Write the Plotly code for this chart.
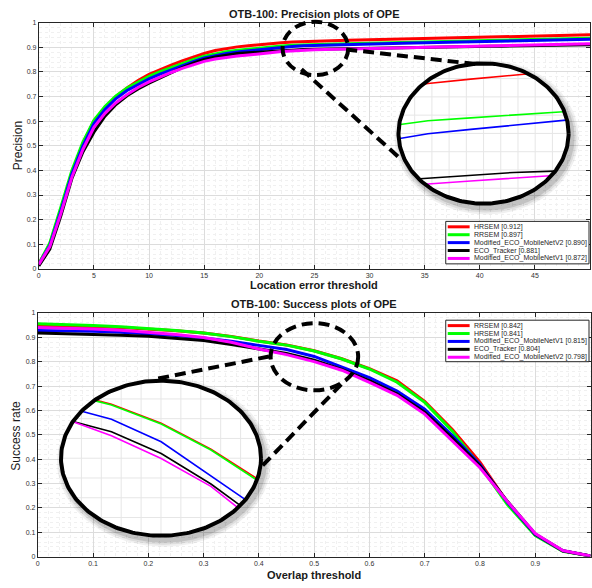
import numpy as np
import plotly.graph_objects as go

W, H = 592, 588

# ---------------- data ----------------
prec_thresholds = list(range(0, 51))
prec_names = ["HRSEM [0.912]", "RRSEM [0.897]", "Modified_ECO_MobileNetV2 [0.890]",
              "ECO_Tracker [0.881]", "Modified_ECO_MobileNetV1 [0.872]"]
prec_colors = ["#ff0000", "#00ff00", "#0000ff", "#000000", "#ff00ff"]
prec_hrsem = [0.020, 0.100, 0.240, 0.390, 0.510, 0.600, 0.655, 0.700, 0.735, 0.765,
              0.790, 0.810, 0.828, 0.845, 0.861, 0.875, 0.887, 0.896, 0.902, 0.907,
              0.912, 0.916, 0.919, 0.922, 0.924, 0.9255, 0.927, 0.928, 0.929, 0.930,
              0.931, 0.932, 0.933, 0.934, 0.935, 0.936, 0.937, 0.938, 0.939, 0.940,
              0.941, 0.942, 0.943, 0.944, 0.945, 0.946, 0.947, 0.948, 0.949, 0.950, 0.951]
prec_rrsem = [0.020, 0.105, 0.250, 0.400, 0.515, 0.604, 0.660, 0.703, 0.735, 0.760,
              0.782, 0.801, 0.818, 0.834, 0.850, 0.864, 0.874, 0.882, 0.888, 0.893,
              0.897, 0.902, 0.906, 0.909, 0.911, 0.912, 0.913, 0.914, 0.915, 0.916,
              0.917, 0.918, 0.919, 0.920, 0.921, 0.922, 0.923, 0.924, 0.925, 0.926,
              0.927, 0.928, 0.929, 0.930, 0.931, 0.932, 0.933, 0.934, 0.935, 0.936, 0.937]
prec_v2 = [0.018, 0.095, 0.235, 0.385, 0.500, 0.590, 0.648, 0.692, 0.725, 0.750,
           0.772, 0.791, 0.809, 0.826, 0.842, 0.857, 0.867, 0.875, 0.881, 0.886,
           0.890, 0.896, 0.900, 0.904, 0.9065, 0.908, 0.9095, 0.911, 0.912, 0.913,
           0.914, 0.915, 0.916, 0.917, 0.918, 0.919, 0.920, 0.921, 0.922, 0.923,
           0.924, 0.925, 0.926, 0.927, 0.928, 0.929, 0.930, 0.931, 0.932, 0.932, 0.933]
prec_eco = [0.012, 0.080, 0.215, 0.367, 0.475, 0.555, 0.620, 0.668, 0.703, 0.731,
            0.755, 0.777, 0.798, 0.818, 0.836, 0.851, 0.861, 0.869, 0.875, 0.878,
            0.881, 0.885, 0.888, 0.890, 0.891, 0.892, 0.893, 0.8935, 0.894, 0.895,
            0.896, 0.897, 0.898, 0.898, 0.899, 0.900, 0.901, 0.902, 0.902, 0.903,
            0.904, 0.905, 0.905, 0.906, 0.907, 0.908, 0.908, 0.909, 0.910, 0.910, 0.911]
prec_v1 = [0.018, 0.090, 0.225, 0.372, 0.485, 0.575, 0.632, 0.675, 0.708, 0.737,
           0.760, 0.780, 0.798, 0.815, 0.830, 0.843, 0.853, 0.860, 0.865, 0.869,
           0.872, 0.878, 0.883, 0.886, 0.889, 0.890, 0.891, 0.892, 0.893, 0.894,
           0.895, 0.896, 0.897, 0.898, 0.899, 0.900, 0.901, 0.902, 0.903, 0.904,
           0.905, 0.906, 0.907, 0.908, 0.909, 0.910, 0.911, 0.912, 0.913, 0.914, 0.915]
prec_series = [prec_hrsem, prec_rrsem, prec_v2, prec_eco, prec_v1]

succ_thresholds = [0.0, 0.05, 0.1, 0.15, 0.2, 0.25, 0.3, 0.35, 0.4, 0.45, 0.5,
                   0.55, 0.6, 0.65, 0.7, 0.75, 0.8, 0.85, 0.9, 0.95, 1.0]
succ_names = ["RRSEM [0.842]", "HRSEM [0.841]", "Modified_ECO_MobileNetV1 [0.815]",
              "ECO_Tracker [0.804]", "Modified_ECO_MobileNetV2 [0.798]"]
succ_colors = ["#ff0000", "#00ff00", "#0000ff", "#000000", "#ff00ff"]
succ_rrsem = [0.948, 0.947, 0.944, 0.940, 0.934, 0.927, 0.918, 0.904, 0.885, 0.869, 0.845,
              0.812, 0.772, 0.722, 0.637, 0.522, 0.388, 0.222, 0.091, 0.023, 0.003]
succ_hrsem = [0.956, 0.954, 0.949, 0.943, 0.936, 0.928, 0.918, 0.903, 0.884, 0.868, 0.844,
              0.811, 0.770, 0.716, 0.633, 0.515, 0.372, 0.213, 0.087, 0.022, 0.003]
succ_v1 = [0.928, 0.927, 0.925, 0.921, 0.916, 0.908, 0.897, 0.884, 0.867, 0.850, 0.8215,
           0.778, 0.735, 0.680, 0.605, 0.497, 0.378, 0.222, 0.091, 0.024, 0.003]
succ_eco = [0.918, 0.916, 0.913, 0.909, 0.904, 0.897, 0.887, 0.871, 0.851, 0.834, 0.8065,
            0.768, 0.722, 0.668, 0.593, 0.487, 0.373, 0.226, 0.093, 0.024, 0.003]
succ_v2 = [0.940, 0.938, 0.934, 0.929, 0.922, 0.912, 0.899, 0.880, 0.852, 0.829, 0.8003,
           0.765, 0.715, 0.662, 0.585, 0.477, 0.365, 0.225, 0.095, 0.025, 0.003]
succ_series = [succ_rrsem, succ_hrsem, succ_v1, succ_eco, succ_v2]

FONT = "Liberation Sans, Arial, sans-serif"

# ---------------- helpers ----------------
def PX(x):
    return x / W


def PY(y):
    return 1 - y / H


def ellipse(cx, cy, rx, ry, n=241):
    t = np.linspace(0, 2 * np.pi, n)
    return list(cx + rx * np.cos(t)), list(cy + ry * np.sin(t))


def clip_to_ellipse(xs, ys, cx, cy, rx, ry):
    ox, oy = [], []
    for i in range(len(xs) - 1):
        x0, y0, x1, y1 = xs[i], ys[i], xs[i + 1], ys[i + 1]
        dx, dy = x1 - x0, y1 - y0
        a = (dx / rx) ** 2 + (dy / ry) ** 2
        b = 2 * ((x0 - cx) * dx / rx ** 2 + (y0 - cy) * dy / ry ** 2)
        c = ((x0 - cx) / rx) ** 2 + ((y0 - cy) / ry) ** 2 - 1
        disc = b * b - 4 * a * c
        if a == 0 or disc <= 0:
            continue
        s = disc ** 0.5
        ta = max((-b - s) / (2 * a), 0.0)
        tb = min((-b + s) / (2 * a), 1.0)
        if ta >= tb:
            continue
        p0 = (x0 + ta * dx, y0 + ta * dy)
        p1 = (x0 + tb * dx, y0 + tb * dy)
        if ox and ox[-1] is not None and abs(ox[-1] - p0[0]) < 1e-9 and abs(oy[-1] - p0[1]) < 1e-9:
            ox.append(p1[0]); oy.append(p1[1])
        else:
            if ox:
                ox.append(None); oy.append(None)
            ox += [p0[0], p1[0]]; oy += [p0[1], p1[1]]
    return ox, oy


fig = go.Figure()

# ---------------- main plots ----------------
for name, col, ys in zip(prec_names, prec_colors, prec_series):
    fig.add_trace(go.Scatter(x=prec_thresholds, y=ys, mode="lines", name=name,
                             line=dict(color=col, width=3), xaxis="x", yaxis="y",
                             showlegend=False, hoverinfo="skip"))
for name, col, ys in zip(succ_names, succ_colors, succ_series):
    fig.add_trace(go.Scatter(x=succ_thresholds, y=ys, mode="lines", name=name,
                             line=dict(color=col, width=3), xaxis="x2", yaxis="y2",
                             showlegend=False, hoverinfo="skip"))

# ---------------- insets ----------------
insets = [
    dict(cpx=(484, 131), r=(85.5, 71), cd=(25.3, 0.90659), s=(43.0, 2905.0), g=(17.3, 18.5),
         xs=prec_thresholds, series=prec_series, colors=prec_colors, ax="3"),
    dict(cpx=(159.8, 459.7), r=(100.5, 78.5), cd=(0.4998, 0.80063), s=(1000.0, 800.0), g=(20.0, 20.0),
         xs=succ_thresholds, series=succ_series, colors=succ_colors, ax="4"),
]
PAD = 16
for ins in insets:
    cxp, cyp = ins["cpx"]
    rxp, ryp = ins["r"]
    cxd, cyd = ins["cd"]
    sx, sy = ins["s"]
    a = ins["ax"]
    xa, ya = "x" + a, "y" + a
    fig.update_layout(**{
        "xaxis" + a: dict(domain=[PX(cxp - rxp - PAD), PX(cxp + rxp + PAD)],
                          range=[cxd - (rxp + PAD) / sx, cxd + (rxp + PAD) / sx],
                          visible=False, anchor=ya, fixedrange=True),
        "yaxis" + a: dict(domain=[PY(cyp + ryp + PAD), PY(cyp - ryp - PAD)],
                          range=[cyd - (ryp + PAD) / sy, cyd + (ryp + PAD) / sy],
                          visible=False, anchor=xa, fixedrange=True),
    })
    rxd, ryd = rxp / sx, ryp / sy
    # soft shadow
    for k, alpha in [(7, 0.06), (5, 0.08), (3, 0.12)]:
        ex, ey = ellipse(cxd + 3 / sx, cyd - 4 / sy, (rxp + k) / sx, (ryp + k) / sy)
        fig.add_trace(go.Scatter(x=ex, y=ey, mode="lines", fill="toself",
                                 fillcolor="rgba(0,0,0,%.2f)" % alpha, line=dict(width=0),
                                 xaxis=xa, yaxis=ya, showlegend=False, hoverinfo="skip"))
    # white face
    ex, ey = ellipse(cxd, cyd, rxd, ryd)
    fig.add_trace(go.Scatter(x=ex, y=ey, mode="lines", fill="toself", fillcolor="white",
                             line=dict(width=0), xaxis=xa, yaxis=ya, showlegend=False,
                             hoverinfo="skip"))
    # faint magnified grid inside ellipse
    gx, gy = [], []
    gsx, gsy = ins["g"]
    k = -int(rxp // gsx)
    while k * gsx <= rxp:
        u = k * gsx / rxp
        if abs(u) < 1:
            h = ryd * np.sqrt(1 - u * u)
            xv = cxd + k * gsx / sx
            gx += [xv, xv, None]; gy += [cyd - h, cyd + h, None]
        k += 1
    k = -int(ryp // gsy)
    while k * gsy <= ryp:
        u = k * gsy / ryp
        if abs(u) < 1:
            w = rxd * np.sqrt(1 - u * u)
            yv = cyd + k * gsy / sy
            gx += [cxd - w, cxd + w, None]; gy += [yv, yv, None]
        k += 1
    fig.add_trace(go.Scatter(x=gx, y=gy, mode="lines", line=dict(color="#e6e6e6", width=1),
                             xaxis=xa, yaxis=ya, showlegend=False, hoverinfo="skip"))
    # magnified data lines clipped to ellipse
    for col, ys in zip(ins["colors"], ins["series"]):
        cx_, cy_ = clip_to_ellipse(ins["xs"], ys, cxd, cyd, (rxp - 1) / sx, (ryp - 1) / sy)
        fig.add_trace(go.Scatter(x=cx_, y=cy_, mode="lines", line=dict(color=col, width=1.6),
                                 xaxis=xa, yaxis=ya, showlegend=False, hoverinfo="skip",
                                 connectgaps=False))
    # ellipse outline
    fig.add_trace(go.Scatter(x=ex, y=ey, mode="lines", line=dict(color="black", width=4),
                             xaxis=xa, yaxis=ya, showlegend=False, hoverinfo="skip"))


# ---------------- axes ----------------
def main_axis(domain, rng, dtick, minor_dtick, anchor):
    return dict(domain=domain, range=rng, dtick=dtick, tick0=0, showgrid=True,
                gridcolor="#dcdcdc", gridwidth=1,
                minor=dict(dtick=minor_dtick, showgrid=True, gridcolor="#f0f0f0",
                           griddash="dot", gridwidth=1),
                ticks="inside", ticklen=4, tickcolor="#262626", showline=True,
                linecolor="#262626", linewidth=1, mirror="ticks", zeroline=False,
                tickfont=dict(size=7, color="#333333", family=FONT), anchor=anchor,
                fixedrange=True, layer="below traces")


fig.update_layout(
    xaxis=main_axis([PX(37), PX(591)], [0, 50], 5, 1, "y"),
    yaxis=main_axis([PY(268), PY(19)], [0, 1], 0.1, 0.02, "x"),
    xaxis2=main_axis([PX(36), PX(591.5)], [0, 1], 0.1, 0.02, "y2"),
    yaxis2=main_axis([PY(559.3), PY(312.7)], [0, 1], 0.1, 0.02, "x2"),
)

# ---------------- decorations: dashed source circles and connectors ----------------
shapes = []
dash = "11px,6px"
for (x0, y0, x1, y1) in [(282, 18, 348, 72), (270, 323, 358, 391)]:
    shapes.append(dict(type="circle", xref="paper", yref="paper", x0=PX(x0), x1=PX(x1),
                       y0=PY(y1), y1=PY(y0), line=dict(color="black", width=4, dash=dash),
                       layer="above"))
for (x0, y0, x1, y1) in [(346, 46, 478, 61), (301, 66, 402, 158),
                         (157, 379, 272, 356), (262, 467, 341, 385)]:
    shapes.append(dict(type="line", xref="paper", yref="paper", x0=PX(x0), y0=PY(y0),
                       x1=PX(x1), y1=PY(y1), line=dict(color="black", width=4, dash=dash),
                       layer="above"))

# ---------------- custom legends ----------------
annotations = []
for (bx0, by0, bx1, by1, names, colors) in [
        (446, 220, 590, 263, prec_names, prec_colors),
        (446, 320, 590, 362, succ_names, succ_colors)]:
    shapes.append(dict(type="rect", xref="paper", yref="paper", x0=PX(bx0), x1=PX(bx1),
                       y0=PY(by1), y1=PY(by0), fillcolor="white",
                       line=dict(color="#262626", width=1), layer="above"))
    for i, (nm, col) in enumerate(zip(names, colors)):
        yy = by0 + 5.5 + 8 * i
        shapes.append(dict(type="line", xref="paper", yref="paper", x0=PX(448), x1=PX(470),
                           y0=PY(yy), y1=PY(yy), line=dict(color=col, width=3), layer="above"))
        annotations.append(dict(text=nm, xref="paper", yref="paper", x=PX(472), y=PY(yy),
                                xanchor="left", yanchor="middle", showarrow=False,
                                font=dict(size=7, color="#262626", family=FONT)))

# ---------------- titles ----------------
def label(text, x, y, size, bold=True, angle=0):
    annotations.append(dict(text="<b>%s</b>" % text if bold else text, xref="paper",
                            yref="paper", x=PX(x), y=PY(y), xanchor="center",
                            yanchor="middle", showarrow=False, textangle=angle,
                            font=dict(size=size, color="#1a1a1a", family=FONT)))


label("OTB-100: Precision plots of OPE", 314, 10, 11)
label("Location error threshold", 314, 284, 11)
label("Precision", 16, 143, 12, bold=False, angle=-90)
label("OTB-100: Success plots of OPE", 314, 304, 11)
label("Overlap threshold", 314, 578, 11)
label("Success rate", 14, 437, 12, bold=False, angle=-90)

fig.update_layout(width=W, height=H, margin=dict(l=0, r=0, t=0, b=0),
                  paper_bgcolor="white", plot_bgcolor="rgba(0,0,0,0)", showlegend=False,
                  shapes=shapes, annotations=annotations,
                  font=dict(family=FONT))

fig.write_html("out.html", config={"displayModeBar": False},
               post_script="document.body.style.margin='0';document.body.style.overflow='hidden';")
